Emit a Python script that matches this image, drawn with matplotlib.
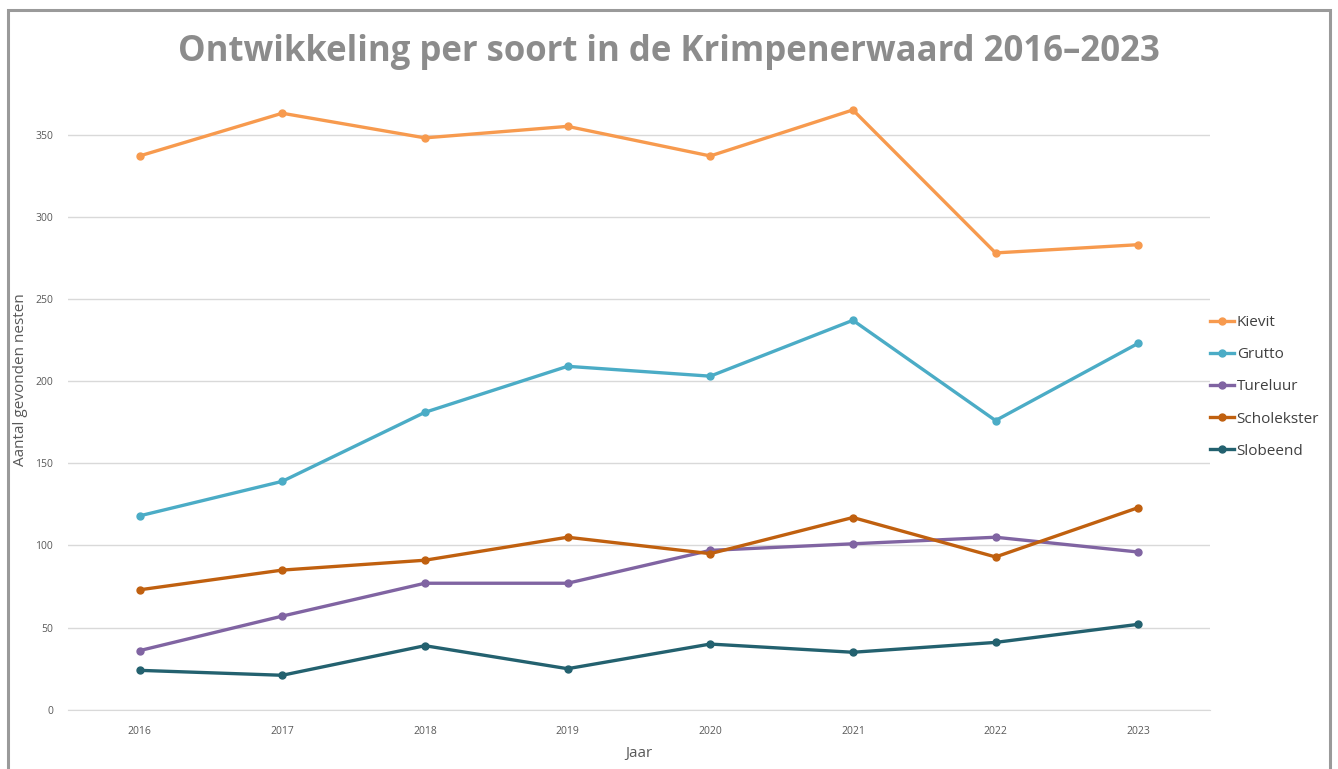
import matplotlib.pyplot as plt
import matplotlib.patches as mpatches
import numpy as np

jaren = ['2016', '2017', '2018', '2019', '2020', '2021', '2022', '2023']
kievit = [337, 363, 348, 355, 337, 365, 278, 283]
grutto = [118, 139, 181, 209, 203, 237, 176, 223]
tureluur = [36, 57, 77, 77, 97, 101, 105, 96]
scholekster = [73, 85, 91, 105, 95, 117, 93, 123]
slobeend = [24, 21, 39, 25, 40, 35, 41, 52]

soorten = ['Kievit', 'Grutto', 'Tureluur', 'Scholekster', 'Slobeend']
reeksen = [kievit, grutto, tureluur, scholekster, slobeend]
kleuren = ['#F79A4E', '#4BACC6', '#8064A2', '#C0600F', '#23616F']

plt.rcParams['font.family'] = ['Open Sans', 'DejaVu Sans']

fig = plt.figure(figsize=(13.38, 7.69), dpi=100)
ax = fig.add_axes([0.051, 0.077, 0.853, 0.795])

x = np.arange(len(jaren))
for naam, waarden, kleur in zip(soorten, reeksen, kleuren):
    ax.plot(x, waarden, color=kleur, lw=2.4, marker='o', ms=5, label=naam)

ax.set_xlim(-0.5, len(jaren) - 0.5)
ax.set_ylim(0, 372)
ax.set_yticks(range(0, 351, 50))
ax.set_xticks(x)
ax.set_xticklabels(jaren)
ax.grid(axis='y', color='#d9d9d9', lw=1)
ax.set_axisbelow(True)
for s in ['top', 'right', 'left']:
    ax.spines[s].set_visible(False)
ax.spines['bottom'].set_color('#d9d9d9')
ax.tick_params(length=0, labelsize=7.5, colors='#595959', pad=12)
ax.tick_params(axis='y', pad=11)

ax.set_xlabel('Jaar', fontsize=11, color='#595959', labelpad=6)
ax.set_ylabel('Aantal gevonden nesten', fontsize=11, color='#595959')
ax.yaxis.set_label_coords(-0.035, 0.54)

fig.text(0.5, 0.932, 'Ontwikkeling per soort in de Krimpenerwaard 2016\u20132023',
         ha='center', va='center', fontsize=25, fontweight='bold', color='#8c8c8c')

leg = ax.legend(loc='center left', bbox_to_anchor=(0.995, 0.528), frameon=False,
                fontsize=11, handlelength=1.6, handletextpad=0.15, labelspacing=1.12,
                borderaxespad=0)
for t in leg.get_texts():
    t.set_color('#404040')

rand = mpatches.Rectangle((0.006, -0.05), 0.988, 1.037, transform=fig.transFigure,
                          fill=False, edgecolor='#9a9a9a', lw=2.2)
fig.patches.append(rand)

fig.savefig('out.png', dpi=100, facecolor='white')
